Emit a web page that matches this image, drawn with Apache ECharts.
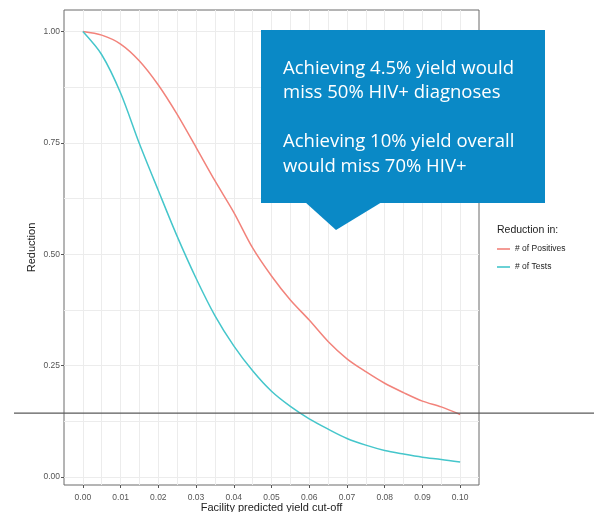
<!DOCTYPE html>
<html><head><meta charset="utf-8">
<script src="https://cdn.jsdelivr.net/npm/echarts@6/dist/echarts.min.js"></script>
<style>html,body{margin:0;padding:0;background:#fff}#c{width:594px;height:512px}</style>
</head><body><div id="c"></div>
<script>
// ---- data ----
const cutoffs   = [0.000,0.005,0.010,0.015,0.020,0.025,0.030,0.035,0.040,0.045,0.050,0.055,0.060,0.065,0.070,0.075,0.080,0.085,0.090,0.095,0.100];
const positives = [1.000,0.992,0.972,0.934,0.880,0.814,0.740,0.665,0.594,0.514,0.451,0.397,0.352,0.304,0.265,0.236,0.210,0.189,0.170,0.157,0.140];
const tests     = [1.000,0.948,0.862,0.748,0.643,0.540,0.446,0.362,0.294,0.238,0.192,0.158,0.130,0.107,0.086,0.071,0.059,0.051,0.044,0.039,0.033];
const seriesNames = ['# of Positives', '# of Tests'];
const xTicks = [0,0.01,0.02,0.03,0.04,0.05,0.06,0.07,0.08,0.09,0.10];
const yTicks = [0,0.25,0.5,0.75,1];
const xGrid = [0,0.005,0.01,0.015,0.02,0.025,0.03,0.035,0.04,0.045,0.05,0.055,0.06,0.065,0.07,0.075,0.08,0.085,0.09,0.095,0.10];
const yGrid = [0,0.125,0.25,0.375,0.5,0.625,0.75,0.875,1];
const refLine = 0.143;
const legendTitle = 'Reduction in:';
const xTitle = 'Facility predicted yield cut-off';
const yTitle = 'Reduction';
const calloutLines = ['Achieving 4.5% yield would', 'miss 50% HIV+ diagnoses', '', 'Achieving 10% yield overall', 'would miss 70% HIV+'];

const xMin = -0.005, xMax = 0.105, yMin = -0.0185, yMax = 1.0485;
const colors = ['#F2837B', '#45C6CB'];
const labelStyle = {fontFamily: 'Liberation Sans, Arial', fontSize: 8.5, color: '#555'};

const chart = echarts.init(document.getElementById('c'), null, {renderer: 'canvas'});
const gridAxisCommon = {
  type: 'value', gridIndex: 0,
  axisLine: {show: false, onZero: false}, axisLabel: {show: false},
  splitLine: {show: true, lineStyle: {color: '#ececec', width: 1}}
};
chart.setOption({
  animation: false,
  backgroundColor: '#fff',
  grid: {left: 64, top: 10, right: 115, bottom: 27, show: true, borderColor: '#6a6a6a', borderWidth: 1,
         backgroundColor: 'transparent', containLabel: false, outerBoundsMode: 'none'},
  xAxis: [
    Object.assign({}, gridAxisCommon, {min: xMin, max: xMax, position: 'bottom', axisTick: {show: false, customValues: xGrid}}),
    {type: 'value', gridIndex: 0, min: xMin, max: xMax, position: 'bottom',
     axisLine: {show: false, onZero: false}, splitLine: {show: false},
     axisTick: {show: true, customValues: xTicks, length: 3, lineStyle: {color: '#555'}},
     axisLabel: {customValues: xTicks, margin: 8, formatter: v => v.toFixed(2), ...labelStyle},
     name: xTitle, nameLocation: 'middle', nameGap: 17, nameMoveOverlap: false,
     nameTextStyle: {fontFamily: 'Liberation Sans, Arial', fontSize: 11, color: '#222'}}
  ],
  yAxis: [
    Object.assign({}, gridAxisCommon, {min: yMin, max: yMax, position: 'left', axisTick: {show: false, customValues: yGrid}}),
    {type: 'value', gridIndex: 0, min: yMin, max: yMax, position: 'left',
     axisLine: {show: false, onZero: false}, splitLine: {show: false},
     axisTick: {show: true, customValues: yTicks, length: 3, lineStyle: {color: '#555'}},
     axisLabel: {customValues: yTicks, margin: 4, formatter: v => v.toFixed(2), ...labelStyle},
     name: yTitle, nameLocation: 'middle', nameGap: 27, nameRotate: 90, nameMoveOverlap: false,
     nameTextStyle: {fontFamily: 'Liberation Sans, Arial', fontSize: 11, color: '#222'}}
  ],
  legend: {
    orient: 'vertical', left: 497, top: 244, padding: 0, itemWidth: 13, itemHeight: 1.6, itemGap: 8, icon: 'rect',
    data: seriesNames,
    textStyle: {fontFamily: 'Liberation Sans, Arial', fontSize: 8.5, color: '#222', lineHeight: 10}
  },
  series: [
    {name: seriesNames[0], type: 'line', xAxisIndex: 0, yAxisIndex: 0, symbol: 'none', smooth: 0.3,
     data: cutoffs.map((c, i) => [c, positives[i]]), lineStyle: {color: colors[0], width: 1.5}, itemStyle: {color: colors[0]}},
    {name: seriesNames[1], type: 'line', xAxisIndex: 0, yAxisIndex: 0, symbol: 'none', smooth: 0.3,
     data: cutoffs.map((c, i) => [c, tests[i]]), lineStyle: {color: colors[1], width: 1.5}, itemStyle: {color: colors[1]}}
  ]
});

const refY = chart.convertToPixel({yAxisIndex: 0}, refLine);
const boxColor = '#0A89C6';
chart.setOption({
  graphic: [
    {type: 'line', shape: {x1: 14, y1: refY, x2: 594, y2: refY}, style: {stroke: '#5a5a5a', lineWidth: 1.2}, z: 50},
    {type: 'rect', shape: {x: 261, y: 30, width: 284, height: 173}, style: {fill: boxColor}, z: 60},
    {type: 'polygon', shape: {points: [[305, 202], [382, 202], [336, 230]]}, style: {fill: boxColor}, z: 60},
    {type: 'text', x: 283, y: 56, z: 61,
     style: {text: calloutLines.join('\n'), fill: '#fff', font: '18.5px "Open Sans"', lineHeight: 24.5, verticalAlign: 'top'}},
    {type: 'text', x: 497, y: 230, z: 61,
     style: {text: legendTitle, fill: '#222', font: '10.5px "Liberation Sans", Arial', verticalAlign: 'middle'}}
  ]
});
</script>
</body></html>
